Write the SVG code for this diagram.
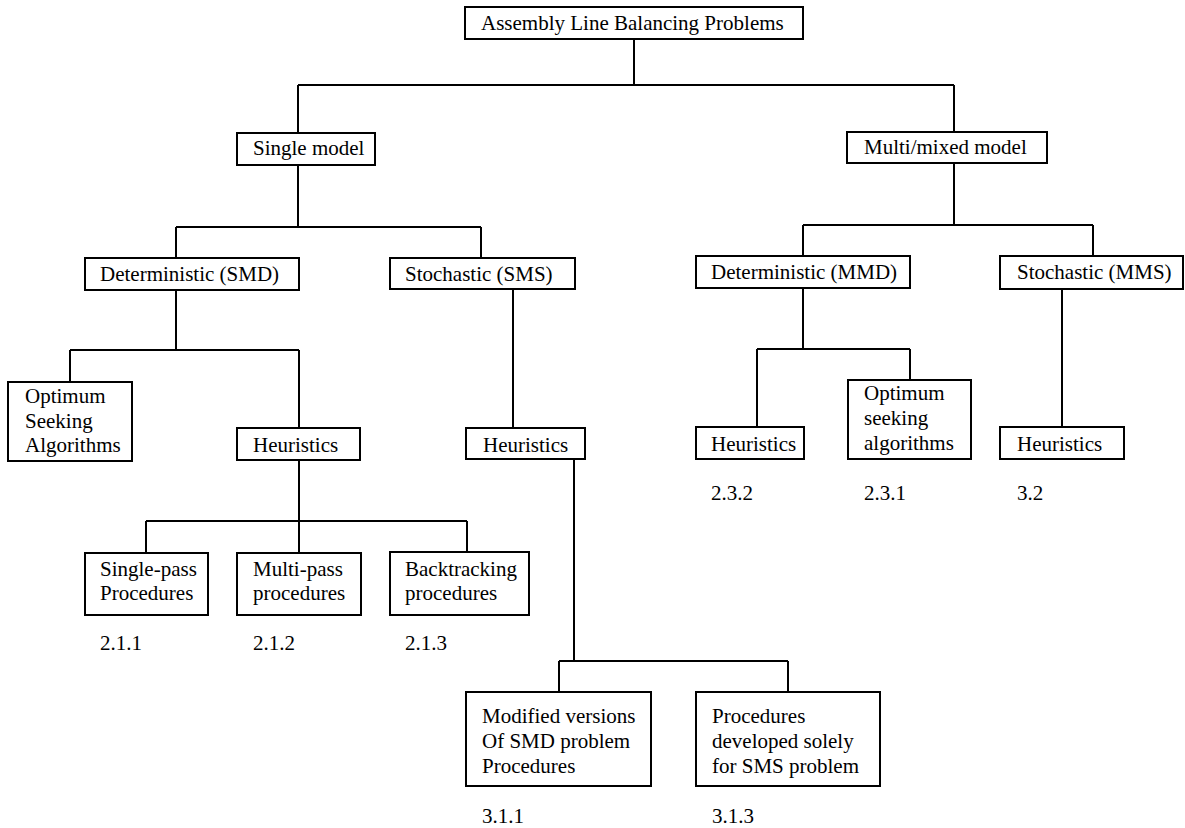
<svg xmlns="http://www.w3.org/2000/svg" width="1185" height="828" viewBox="0 0 1185 828">
<style>
.box{fill:#fff;stroke:#000;stroke-width:2}
.t{font-family:"Liberation Serif","Times New Roman",serif;font-size:21px;fill:#000}
.c{fill:none;stroke:#000;stroke-width:2}
</style>
<rect width="1185" height="828" fill="#fff"/>
<g id="connectors" class="c">
<path d="M634 39V85M298 85H954M298 85V133M954 85V132"/>
<path d="M298 165V227M176 227H481M176 227V258M481 227V258"/>
<path d="M954 163V225M803 225H1093M803 225V256M1093 225V256"/>
<path d="M176 290V350M70 350H299M70 350V382M299 350V428"/>
<path d="M299 460V521M146 521H467M146 521V553M299 521V553M467 521V552"/>
<path d="M513 289V428"/>
<path d="M574 459V661M559 661H788M559 661V692M788 661V692"/>
<path d="M803 288V349M757 349H910M757 349V427M910 349V380"/>
<path d="M1062 289V427"/>
</g>
<g id="root"><rect class="box" x="465" y="7" width="338" height="32"/><text class="t" x="481" y="30">Assembly Line Balancing Problems</text></g>
<g id="single"><rect class="box" x="237" y="133" width="138" height="32"/><text class="t" x="253" y="155">Single model</text></g>
<g id="multi"><rect class="box" x="847" y="132" width="200" height="31"/><text class="t" x="864" y="154">Multi/mixed model</text></g>
<g id="smd"><rect class="box" x="85" y="258" width="214" height="32"/><text class="t" x="100" y="281">Deterministic (SMD)</text></g>
<g id="sms"><rect class="box" x="390" y="258" width="185" height="31"/><text class="t" x="405" y="281">Stochastic (SMS)</text></g>
<g id="mmd"><rect class="box" x="696" y="256" width="214" height="32"/><text class="t" x="711" y="279">Deterministic (MMD)</text></g>
<g id="mms"><rect class="box" x="1000" y="256" width="183" height="33"/><text class="t" x="1017" y="279">Stochastic (MMS)</text></g>
<g id="opt_smd"><rect class="box" x="8" y="382" width="124" height="79"/><text class="t" x="25" y="403">Optimum</text><text class="t" x="25" y="428">Seeking</text><text class="t" x="25" y="452">Algorithms</text></g>
<g id="heur_smd"><rect class="box" x="237" y="428" width="123" height="32"/><text class="t" x="253" y="452">Heuristics</text></g>
<g id="heur_sms"><rect class="box" x="466" y="428" width="119" height="31"/><text class="t" x="483" y="452">Heuristics</text></g>
<g id="heur_mmd"><rect class="box" x="696" y="427" width="108" height="32"/><text class="t" x="711" y="451">Heuristics</text></g>
<g id="opt_mmd"><rect class="box" x="848" y="380" width="123" height="79"/><text class="t" x="864" y="400">Optimum</text><text class="t" x="864" y="425">seeking</text><text class="t" x="864" y="450">algorithms</text></g>
<g id="heur_mms"><rect class="box" x="1000" y="427" width="124" height="32"/><text class="t" x="1017" y="451">Heuristics</text></g>
<g id="singlepass"><rect class="box" x="85" y="553" width="123" height="62"/><text class="t" x="100" y="576">Single-pass</text><text class="t" x="100" y="600">Procedures</text></g>
<g id="multipass"><rect class="box" x="237" y="553" width="124" height="62"/><text class="t" x="253" y="576">Multi-pass</text><text class="t" x="253" y="600">procedures</text></g>
<g id="backtracking"><rect class="box" x="390" y="552" width="139" height="63"/><text class="t" x="405" y="576">Backtracking</text><text class="t" x="405" y="600">procedures</text></g>
<g id="modified"><rect class="box" x="466" y="692" width="185" height="94"/><text class="t" x="482" y="723">Modified versions</text><text class="t" x="482" y="748">Of SMD problem</text><text class="t" x="482" y="773">Procedures</text></g>
<g id="developed"><rect class="box" x="696" y="692" width="184" height="94"/><text class="t" x="712" y="723">Procedures</text><text class="t" x="712" y="748">developed solely</text><text class="t" x="712" y="773">for SMS problem</text></g>
<g id="labels">
<text class="t" x="100" y="650">2.1.1</text>
<text class="t" x="253" y="650">2.1.2</text>
<text class="t" x="405" y="650">2.1.3</text>
<text class="t" x="711" y="500">2.3.2</text>
<text class="t" x="864" y="500">2.3.1</text>
<text class="t" x="1017" y="500">3.2</text>
<text class="t" x="482" y="823">3.1.1</text>
<text class="t" x="712" y="823">3.1.3</text>
</g>
</svg>
